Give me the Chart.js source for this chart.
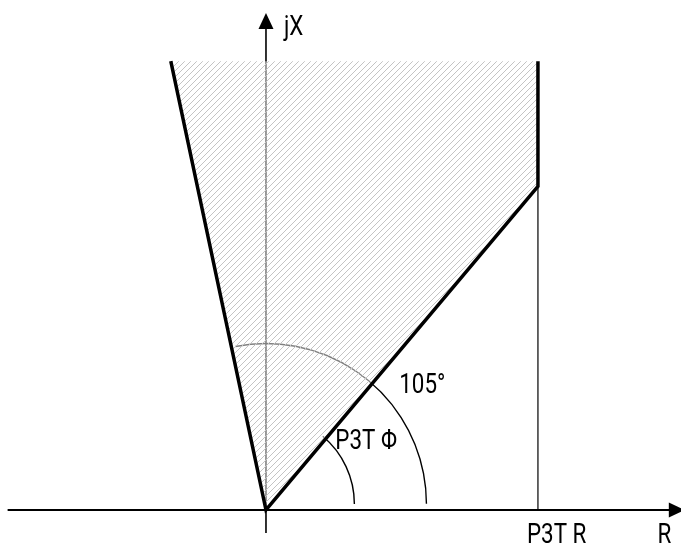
<!DOCTYPE html>
<html>
<head>
<meta charset="utf-8">
<script src="https://cdn.jsdelivr.net/npm/chart.js@4/dist/chart.umd.min.js"></script>
<style>
  html, body { margin: 0; padding: 0; background: #fff; }
  #wrap { width: 681px; height: 544px; position: relative; }
</style>
</head>
<body>
<div id="wrap"><canvas id="zone"></canvas></div>
<script>
// quadrilateral zone in the R-jX plane (ohms)
var reachR = 10;          // P3T R
var reachX = 16.5;        // top of the zone
var zoneR = [0, -3.5, reachR, reachR, 0];
var zoneX = [0, reachX, reachX, 11.9, 0];
// boundary lines drawn thick
var edgeR = [-3.5, 0, reachR, reachR];
var edgeX = [reachX, 0, 11.9, reachX];
// angle arcs: radius (ohm), from / to (deg)
var arcRadius = [3.25, 5.9];
var arcFrom = [0, 0];
var arcTo = [50, 101];
var labelText = ['jX', '105°', 'P3T Φ', 'P3T R', 'R'];

var FONT = '28px Roboto, "Liberation Sans", sans-serif';
var SQUEEZE = 0.8;   // narrow look of the original lettering

function pts(xs, ys) {
    return xs.map(function (x, i) { return { x: x, y: ys[i] }; });
}

// hatch pattern, light grey "/" lines
function makeHatch() {
    var n = 6;
    var c = document.createElement('canvas');
    c.width = n; c.height = n;
    var g = c.getContext('2d');
    g.fillStyle = 'rgba(255,255,255,0.5)';
    g.fillRect(0, 0, n, n);
    g.strokeStyle = '#c4c4c4';
    g.lineWidth = 1;
    g.beginPath();
    g.moveTo(-1, n + 1); g.lineTo(n + 1, -1);
    g.moveTo(-1, 1); g.lineTo(1, -1);
    g.moveTo(n - 1, n + 1); g.lineTo(n + 1, n - 1);
    g.stroke();
    return g.createPattern(c, 'repeat');
}

function label(ctx, txt, x, y) {
    ctx.save();
    ctx.translate(x, y);
    ctx.scale(SQUEEZE, 1);
    ctx.fillText(txt, 0, 0);
    ctx.restore();
}

var axesPlugin = {
    id: 'axesPlugin',
    beforeDatasetsDraw: function (chart) {
        var ctx = chart.ctx, xs = chart.scales.x, ys = chart.scales.y;
        var ox = xs.getPixelForValue(0), oy = ys.getPixelForValue(0);
        ctx.save();
        ctx.strokeStyle = '#000';
        ctx.fillStyle = '#000';
        // R axis
        ctx.lineWidth = 2;
        ctx.beginPath();
        ctx.moveTo(xs.getPixelForValue(-9.5), oy);
        ctx.lineTo(xs.getPixelForValue(15.2), oy);
        ctx.stroke();
        var tx = xs.getPixelForValue(15.4);
        ctx.beginPath();
        ctx.moveTo(tx, oy); ctx.lineTo(tx - 16, oy - 7.5); ctx.lineTo(tx - 16, oy + 7.5);
        ctx.closePath(); ctx.fill();
        // jX axis
        ctx.lineWidth = 1.6;
        ctx.beginPath();
        ctx.moveTo(ox, ys.getPixelForValue(-0.85));
        ctx.lineTo(ox, ys.getPixelForValue(17.8));
        ctx.stroke();
        var ty = ys.getPixelForValue(18.27);
        ctx.beginPath();
        ctx.moveTo(ox, ty); ctx.lineTo(ox - 7.5, ty + 16); ctx.lineTo(ox + 7.5, ty + 16);
        ctx.closePath(); ctx.fill();
        // angle arcs
        ctx.lineWidth = 1.4;
        for (var i = 0; i < arcRadius.length; i++) {
            var r = xs.getPixelForValue(arcRadius[i]) - ox;
            ctx.beginPath();
            ctx.arc(ox, oy - 6, r, -arcTo[i] * Math.PI / 180, -arcFrom[i] * Math.PI / 180 - 0.001);
            ctx.stroke();
        }
        ctx.restore();
    },
    afterDatasetsDraw: function (chart) {
        var ctx = chart.ctx, xs = chart.scales.x, ys = chart.scales.y;
        var ox = xs.getPixelForValue(0), oy = ys.getPixelForValue(0);
        ctx.save();
        ctx.font = FONT;
        ctx.fillStyle = '#000';
        ctx.textBaseline = 'alphabetic';
        label(ctx, labelText[0], ox + 18, ys.getPixelForValue(18.27) + 22);
        label(ctx, labelText[1], xs.getPixelForValue(4.9), ys.getPixelForValue(4.3));
        label(ctx, labelText[2], xs.getPixelForValue(2.55), ys.getPixelForValue(2.25));
        label(ctx, labelText[3], xs.getPixelForValue(reachR) - 11, oy + 33);
        label(ctx, labelText[4], xs.getPixelForValue(14.4), oy + 33);
        ctx.restore();
    }
};

var ctx = document.getElementById('zone').getContext('2d');
var myChart = new Chart(ctx, {
    type: 'scatter',
    data: {
        datasets: [
            {
                // hatched zone
                data: pts(zoneR, zoneX),
                order: 3,
                showLine: true,
                fill: 'shape',
                backgroundColor: makeHatch(),
                borderWidth: 0,
                pointRadius: 0
            },
            {
                // thin R reach line down to the axis
                data: pts([reachR, reachR], [0, 11.9]),
                order: 2,
                showLine: true,
                borderColor: '#000',
                borderWidth: 1.2,
                pointRadius: 0
            },
            {
                // zone boundary
                data: pts(edgeR, edgeX),
                order: 1,
                showLine: true,
                borderColor: '#000',
                borderWidth: 3.5,
                borderJoinStyle: 'miter',
                borderCapStyle: 'butt',
                pointRadius: 0
            }
        ]
    },
    options: {
        responsive: true,
        maintainAspectRatio: false,
        animation: false,
        layout: { padding: 0 },
        scales: {
            x: { type: 'linear', min: -9.78, max: 15.26, display: false },
            y: { type: 'linear', min: -1.25, max: 18.75, display: false }
        },
        plugins: {
            legend: { display: false },
            tooltip: { enabled: false }
        }
    },
    plugins: [axesPlugin]
});
</script>
</body>
</html>
